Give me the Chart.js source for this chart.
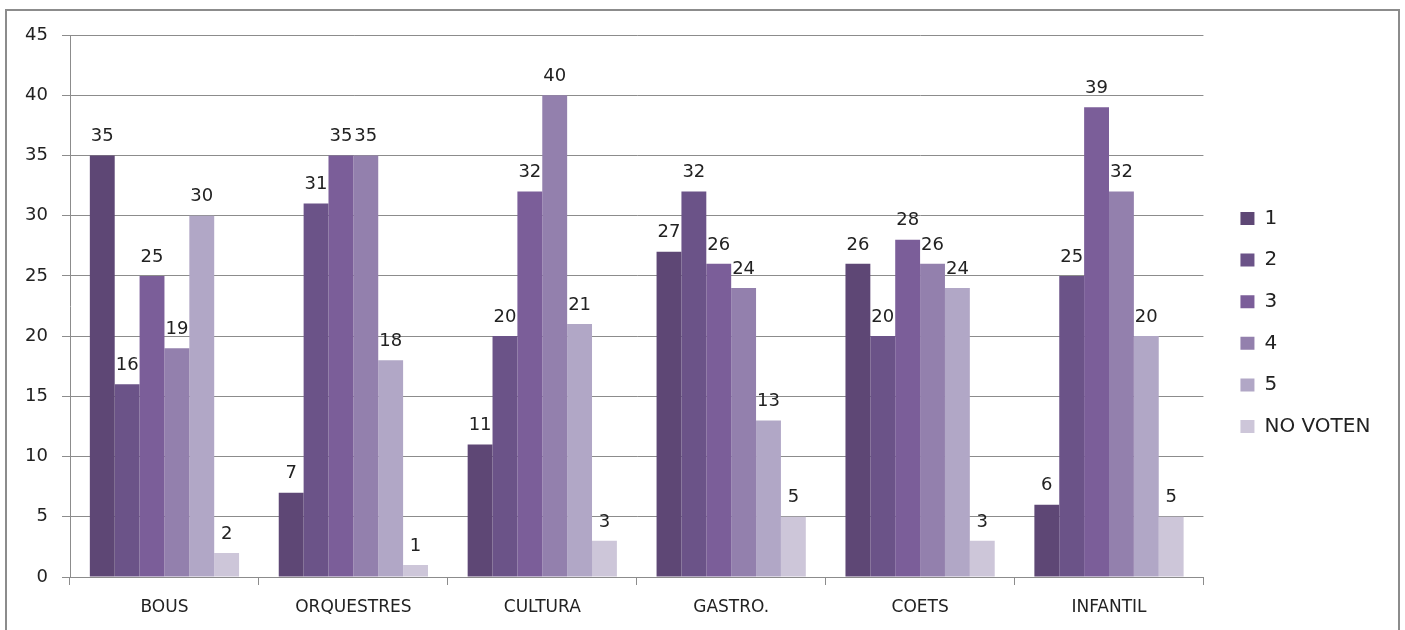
<!DOCTYPE html>
<html>
<head>
<meta charset="utf-8">
<script src="https://cdn.jsdelivr.net/npm/chart.js@4/dist/chart.umd.min.js"></script>
<style>
  body { margin: 0; background: #fff; }
  #marc { position: absolute; left: 5px; top: 9px; width: 1391px; height: 640px; border: 2px solid #8c8c8c; }
  #wrap { position: absolute; left: 0; top: 0; width: 1405px; height: 630px; }
</style>
</head>
<body>
<div id="marc"></div>
<div id="wrap"><canvas id="graf"></canvas></div>
<script>
"use strict";

const categories = ["BOUS", "ORQUESTRES", "CULTURA", "GASTRO.", "COETS", "INFANTIL"];
const serie1 = [35, 7, 11, 27, 26, 6];
const serie2 = [16, 31, 20, 32, 20, 25];
const serie3 = [25, 35, 32, 26, 28, 39];
const serie4 = [19, 35, 40, 24, 26, 32];
const serie5 = [30, 18, 21, 13, 24, 20];
const noVoten = [2, 1, 3, 5, 3, 5];
const seriesNoms = ["1", "2", "3", "4", "5", "NO VOTEN"];
const colors = ["#5e4775", "#6b5388", "#7b5e99", "#9380ad", "#b1a7c6", "#cdc6d9"];

const FONT = "'DejaVu Sans', sans-serif";

// numeros damunt de cada barra
const etiquetes = {
  id: "etiquetes",
  afterDatasetsDraw(chart) {
    const ctx = chart.ctx;
    ctx.save();
    ctx.font = "18px " + FONT;
    ctx.fillStyle = "#222";
    ctx.textAlign = "center";
    ctx.textBaseline = "bottom";
    chart.data.datasets.forEach((ds, i) => {
      chart.getDatasetMeta(i).data.forEach((bar, j) => {
        ctx.fillText(ds.data[j], bar.x, bar.y - 10);
      });
    });
    ctx.restore();
  }
};

// llegenda una mica separada del grafic
const mouLlegenda = {
  id: "mouLlegenda",
  afterLayout(chart) {
    const lg = chart.legend;
    const dx = chart.chartArea.right + 37 - (lg.left + lg.options.labels.padding);
    lg.left += dx; lg.right += dx;
    lg.top -= 10; lg.bottom -= 10;
  }
};

const sets = [serie1, serie2, serie3, serie4, serie5, noVoten].map((d, i) => ({
  label: seriesNoms[i],
  data: d,
  backgroundColor: colors[i],
  borderWidth: 0,
  categoryPercentage: 0.79,
  barPercentage: 1.0
}));

new Chart(document.getElementById("graf"), {
  type: "bar",
  data: { labels: categories, datasets: sets },
  plugins: [etiquetes, mouLlegenda],
  options: {
    responsive: true,
    maintainAspectRatio: false,
    animation: false,
    layout: { padding: { left: 6, top: 35, right: 40, bottom: 0 } },
    plugins: {
      tooltip: { enabled: false },
      legend: {
        position: "right",
        labels: {
          boxWidth: 14,
          boxHeight: 13,
          padding: 21.6,
          color: "#222",
          font: { family: FONT, size: 20 }
        }
      }
    },
    scales: {
      x: {
        afterFit(scale) { scale.height = 53; },
        grid: { offset: true, drawOnChartArea: false, drawTicks: true, tickLength: 8, color: "#8c8c8c" },
        border: { color: "#8c8c8c" },
        ticks: { color: "#222", padding: 12, font: { family: FONT, size: 17 } }
      },
      y: {
        min: 0,
        max: 45,
        afterFit(scale) { scale.width = 64; },
        grid: { color: "#8c8c8c", tickLength: 8 },
        border: { color: "#8c8c8c" },
        ticks: { stepSize: 5, color: "#222", padding: 14, font: { family: FONT, size: 18 } }
      }
    }
  }
});
</script>
</body>
</html>
